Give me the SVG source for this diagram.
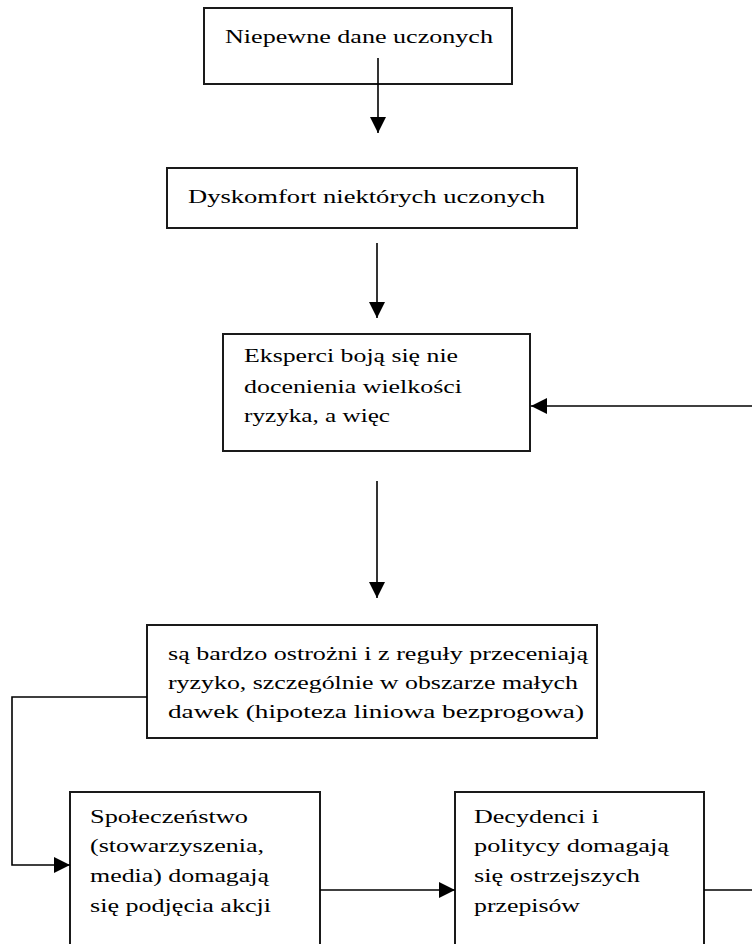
<svg xmlns="http://www.w3.org/2000/svg" width="752" height="944" viewBox="0 0 752 944">
<defs>
<marker id="ah" markerUnits="userSpaceOnUse" markerWidth="16" markerHeight="16" viewBox="0 0 16 16" refX="16" refY="8" orient="auto">
<path d="M0,0 L16,8 L0,16 Z" fill="#000"/>
</marker>
<style>
.box{fill:#fff;stroke:#1a1a1a;stroke-width:2}
.t{font-family:"Liberation Serif","Times New Roman",serif;font-size:18px;fill:#000}
.c{fill:none;stroke:#000;stroke-width:1.6}
</style>
</defs>
<rect width="752" height="944" fill="#fff"/>
<g id="n1"><rect class="box" x="204" y="8" width="308" height="76"/><text class="t" x="225" y="43" textLength="268" lengthAdjust="spacingAndGlyphs">Niepewne dane uczonych</text></g>
<g id="n2"><rect class="box" x="167" y="168" width="410" height="60"/><text class="t" x="188" y="203" textLength="357" lengthAdjust="spacingAndGlyphs">Dyskomfort niektórych uczonych</text></g>
<g id="n3"><rect class="box" x="223" y="334" width="307" height="117"/>
<text class="t" x="244" y="362" textLength="214" lengthAdjust="spacingAndGlyphs">Eksperci boją się nie</text>
<text class="t" x="244" y="393" textLength="218" lengthAdjust="spacingAndGlyphs">docenienia wielkości</text>
<text class="t" x="244" y="422" textLength="146" lengthAdjust="spacingAndGlyphs">ryzyka, a więc</text></g>
<g id="n4"><rect class="box" x="147" y="625" width="450" height="113"/>
<text class="t" x="168" y="660" textLength="420" lengthAdjust="spacingAndGlyphs">są bardzo ostrożni i z reguły przeceniają</text>
<text class="t" x="168" y="689" textLength="410" lengthAdjust="spacingAndGlyphs">ryzyko, szczególnie w obszarze małych</text>
<text class="t" x="168" y="718" textLength="416" lengthAdjust="spacingAndGlyphs">dawek (hipoteza liniowa bezprogowa)</text></g>
<g id="n5"><rect class="box" x="70" y="792" width="250" height="170"/>
<text class="t" x="90" y="823" textLength="158" lengthAdjust="spacingAndGlyphs">Społeczeństwo</text>
<text class="t" x="90" y="852" textLength="174" lengthAdjust="spacingAndGlyphs">(stowarzyszenia,</text>
<text class="t" x="90" y="882" textLength="179" lengthAdjust="spacingAndGlyphs">media) domagają</text>
<text class="t" x="90" y="912" textLength="181" lengthAdjust="spacingAndGlyphs">się podjęcia akcji</text></g>
<g id="n6"><rect class="box" x="455" y="792" width="249" height="170"/>
<text class="t" x="474" y="823" textLength="125" lengthAdjust="spacingAndGlyphs">Decydenci i</text>
<text class="t" x="474" y="852" textLength="195" lengthAdjust="spacingAndGlyphs">politycy domagają</text>
<text class="t" x="474" y="882" textLength="166" lengthAdjust="spacingAndGlyphs">się ostrzejszych</text>
<text class="t" x="474" y="912" textLength="106" lengthAdjust="spacingAndGlyphs">przepisów</text></g>
<g id="connectors">
<path class="c" d="M378,58 V133" marker-end="url(#ah)"/>
<path class="c" d="M377,243 V318" marker-end="url(#ah)"/>
<path class="c" d="M377,481 V598" marker-end="url(#ah)"/>
<path class="c" d="M752,406 H531" marker-end="url(#ah)"/>
<path class="c" d="M147,697 H12 V865 H70" marker-end="url(#ah)"/>
<path class="c" d="M320,890 H455" marker-end="url(#ah)"/>
<path class="c" d="M704,890 H752"/>
</g>
</svg>
